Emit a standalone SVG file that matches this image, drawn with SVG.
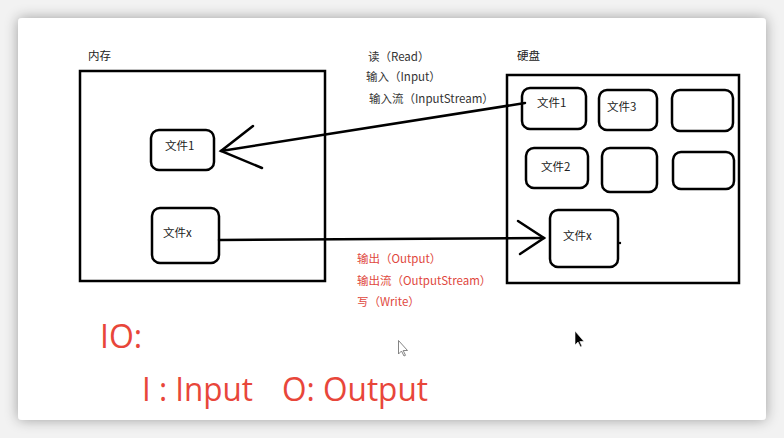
<svg xmlns="http://www.w3.org/2000/svg" width="784" height="438" viewBox="0 0 784 438">
<defs>
<filter id="sh" x="-10%" y="-10%" width="120%" height="120%">
<feGaussianBlur in="SourceAlpha" stdDeviation="7"/>
<feComponentTransfer><feFuncA type="linear" slope="0.35"/></feComponentTransfer>
<feMerge><feMergeNode/><feMergeNode in="SourceGraphic"/></feMerge>
</filter>
</defs>
<style>
.box{fill:none;stroke:#000;stroke-width:2.5}
.f{fill:none;stroke:#000;stroke-width:2.5}
.t{font-family:"Noto Sans CJK SC","Noto Sans",sans-serif;font-size:11.5px;fill:#222}
.g{font-family:"Noto Sans CJK SC","Noto Sans",sans-serif;font-size:11.5px;fill:#333}
.r{font-family:"Noto Sans CJK SC","Noto Sans",sans-serif;font-size:11.5px;fill:#e0473d}
.big{font-family:"Open Sans","Noto Sans",sans-serif;font-size:32px;fill:#e8463a}
.ln{fill:none;stroke:#000;stroke-width:2.5;stroke-linecap:round}
</style>
<rect width="784" height="438" fill="#f2f2f2"/>
<rect x="18" y="18" width="748" height="402" rx="4" fill="#fff" filter="url(#sh)"/>

<g id="memory">
<rect class="box" x="80" y="71" width="245" height="210"/>
<text class="t" x="88" y="60">内存</text>
</g>
<g id="mem-file1">
<rect class="f" x="151" y="130" width="63" height="40" rx="8"/>
<text class="t" x="165" y="150">文件1</text>
</g>
<g id="mem-filex">
<rect class="f" x="152" y="208" width="67" height="55" rx="8"/>
<text class="t" x="163" y="237">文件x</text>
</g>

<g id="disk">
<rect class="box" x="507" y="75" width="232" height="208"/>
<text class="t" x="517" y="60">硬盘</text>
</g>
<g id="disk-file1">
<rect class="f" x="522" y="88" width="64" height="41" rx="8"/>
<text class="t" x="537" y="107">文件1</text>
</g>
<g id="disk-file3">
<rect class="f" x="599" y="90" width="58" height="40" rx="8"/>
<text class="t" x="607" y="111">文件3</text>
</g>
<g id="disk-empty1">
<rect class="f" x="672" y="90" width="61" height="41" rx="8"/>
</g>
<g id="disk-file2">
<rect class="f" x="526" y="148" width="62" height="40" rx="8"/>
<text class="t" x="541" y="171">文件2</text>
</g>
<g id="disk-empty2">
<rect class="f" x="602" y="148" width="55" height="44" rx="8"/>
</g>
<g id="disk-empty3">
<rect class="f" x="673" y="152" width="61" height="37" rx="8"/>
</g>
<g id="disk-filex">
<rect class="f" x="550" y="210" width="68" height="57" rx="8"/>
<text class="t" x="563" y="240">文件x</text>
<circle cx="620" cy="243" r="1.2" fill="#000"/>
</g>

<g id="connectors">
<path class="ln" d="M525 103 L221 151"/>
<path class="ln" d="M253 126 L221 151 L262 168"/>
<path class="ln" d="M219 240 L544 238"/>
<path class="ln" d="M518 221 L544 238 L520 254"/>
</g>

<g id="labels">
<text class="g" x="368" y="61">读（Read）</text>
<text class="g" x="366" y="81">输入（Input）</text>
<text class="g" x="369" y="103">输入流（InputStream）</text>
<text class="r" x="357" y="263">输出（Output）</text>
<text class="r" x="357" y="285">输出流（OutputStream）</text>
<text class="r" x="357" y="306">写（Write）</text>
<text class="big" x="100" y="348">IO:</text>
<text class="big" x="142" y="401" textLength="111" lengthAdjust="spacingAndGlyphs">I : Input</text>
<text class="big" x="282" y="401" textLength="146" lengthAdjust="spacingAndGlyphs">O: Output</text>
</g>

<g id="cursors">
<path d="M398.5 340.5 L398.5 354 L401.5 351 L404 356 L405.5 355.3 L403.2 350.5 L407.5 350.5 Z" fill="#fff" stroke="#777" stroke-width="0.9"/>
<path d="M575 331 L575 345 L578 342 L580.5 347 L582 346.3 L579.8 341.5 L584 341.5 Z" fill="#000" stroke="#fff" stroke-width="0.6"/>
</g>
</svg>
